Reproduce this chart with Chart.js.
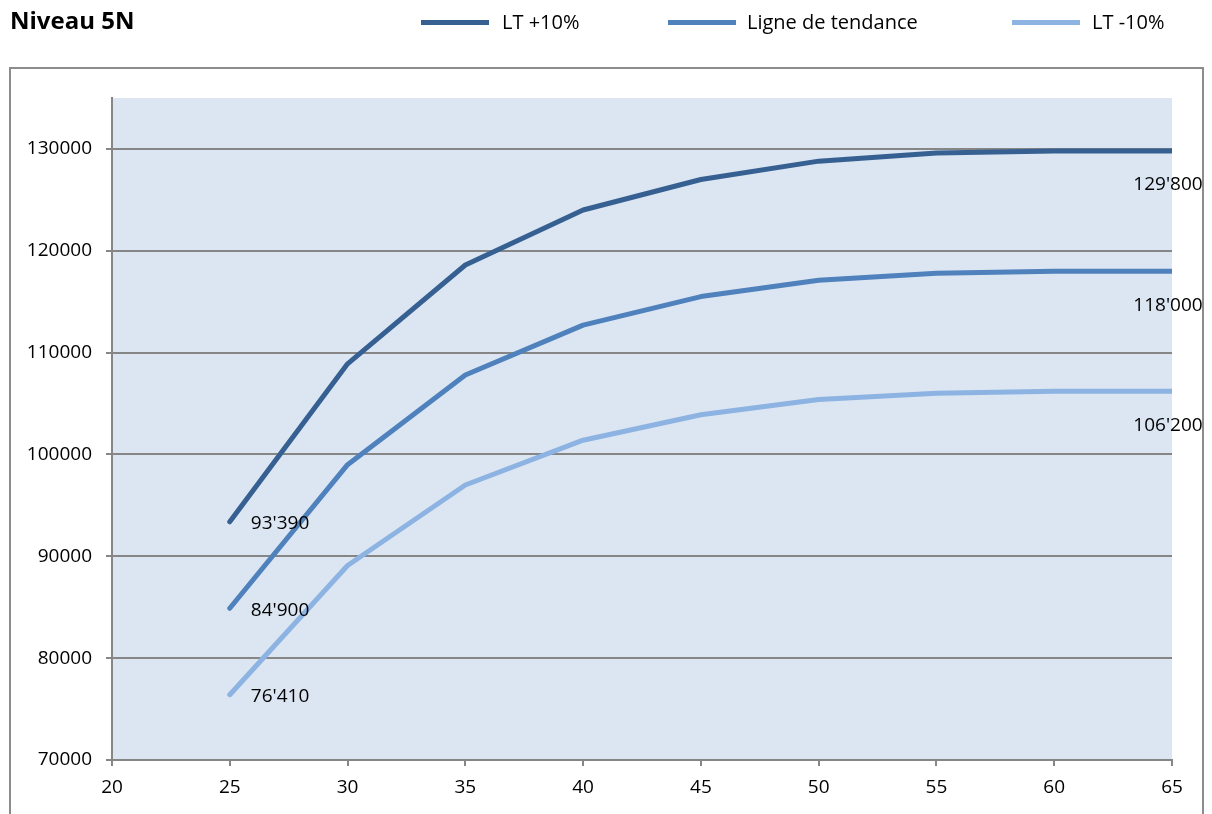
<!DOCTYPE html>
<html>
<head>
<meta charset="utf-8">
<script src="https://cdn.jsdelivr.net/npm/chart.js@4/dist/chart.umd.min.js"></script>
<style>
  body { margin: 0; background: #fff; font-family: "Open Sans", Lato, sans-serif; }
  #wrap { position: relative; width: 1212px; height: 814px; overflow: hidden; }
  #chart { position: absolute; left: 0; top: 0; }
  .titre { position: absolute; left: 10px; top: 5px; font-weight: bold; font-size: 24px; line-height: 30px; color: #000; }
  .leg-line { position: absolute; top: 20px; width: 68px; height: 5px; }
  .leg-txt { position: absolute; top: 10px; font-size: 20px; line-height: 23px; color: #000; white-space: nowrap; }
</style>
</head>
<body>
<div id="wrap">
  <canvas id="chart" width="1212" height="814"></canvas>
  <div class="titre">Niveau 5N</div>
  <div id="legende"></div>
</div>
<script>
// Donnees du graphique
var ages = [25, 30, 35, 40, 45, 50, 55, 60, 65];
var ltPlus = [93390, 108900, 118600, 124000, 127000, 128800, 129600, 129800, 129800];
var tendance = [84900, 99000, 107800, 112700, 115500, 117100, 117800, 118000, 118000];
var ltMoins = [76410, 89100, 97000, 101400, 103900, 105400, 106000, 106200, 106200];
var series = ["LT +10%", "Ligne de tendance", "LT -10%"];
var yTicks = [70000, 80000, 90000, 100000, 110000, 120000, 130000];

var couleurs = ["#376092", "#4f81bd", "#8db3e2"];
var gris = "#868686";
var police = "'Open Sans', Lato, sans-serif";

// Legende en haut (positions comme dans l'original)
var legPos = [[421, 502], [668, 747], [1012, 1092]];
var leg = document.getElementById("legende");
for (var i = 0; i < series.length; i++) {
    leg.innerHTML += '<div class="leg-line" style="left:' + legPos[i][0] + 'px;background:' + couleurs[i] + '"></div>' +
        '<div class="leg-txt" style="left:' + legPos[i][1] + 'px">' + series[i] + '</div>';
}

function points(vals) {
    return ages.map(function(a, k) { return { x: a, y: vals[k] }; });
}

function formatCHF(v) {
    return String(v).replace(/\B(?=(\d{3})+(?!\d))/g, "'");
}

// Cadre + fond de la zone de tracé
var fondPlugin = {
    id: "fond",
    beforeDraw: function(chart) {
        var ctx = chart.ctx, a = chart.chartArea;
        ctx.save();
        ctx.strokeStyle = "#8c8c8c";
        ctx.lineWidth = 2;
        ctx.strokeRect(10, 68, 1193, 800);
        ctx.fillStyle = "#dce6f2";
        ctx.fillRect(a.left, a.top, a.right - a.left, a.bottom - a.top);
        ctx.restore();
    }
};

// Etiquettes du premier et du dernier point
var etiquettesPlugin = {
    id: "etiquettes",
    afterDatasetsDraw: function(chart) {
        var ctx = chart.ctx;
        ctx.save();
        ctx.font = "19px " + police;
        ctx.fillStyle = "#000";
        ctx.textBaseline = "middle";
        chart.data.datasets.forEach(function(ds, i) {
            var meta = chart.getDatasetMeta(i);
            var first = meta.data[0], last = meta.data[meta.data.length - 1];
            ctx.textAlign = "left";
            ctx.fillText(formatCHF(ds.data[0].y), first.x + 21, first.y + 2);
            ctx.textAlign = "center";
            ctx.fillText(formatCHF(ds.data[ds.data.length - 1].y), last.x - 4, last.y + 34);
        });
        ctx.restore();
    }
};

new Chart(document.getElementById("chart"), {
    type: "line",
    data: {
        datasets: [
            { label: series[0], data: points(ltPlus), borderColor: couleurs[0] },
            { label: series[1], data: points(tendance), borderColor: couleurs[1] },
            { label: series[2], data: points(ltMoins), borderColor: couleurs[2] }
        ]
    },
    options: {
        responsive: false,
        animation: false,
        layout: { padding: { top: 98, right: 40, left: 0, bottom: 0 } },
        elements: {
            point: { radius: 0 },
            line: { borderWidth: 5, tension: 0, borderCapStyle: "round", borderJoinStyle: "round" }
        },
        plugins: { legend: { display: false }, tooltip: { enabled: false } },
        scales: {
            x: {
                type: "linear",
                min: 20,
                max: 65,
                afterFit: function(s) { s.height = 54; },
                ticks: { stepSize: 5, color: "#000", font: { family: police, size: 19 }, padding: 10 },
                grid: { drawOnChartArea: false, drawTicks: true, tickLength: 6, color: gris, lineWidth: 2 },
                border: { color: gris, width: 2 }
            },
            y: {
                min: 70000,
                max: 135000,
                afterFit: function(s) { s.width = 112; },
                afterBuildTicks: function(s) { s.ticks = yTicks.map(function(v) { return { value: v }; }); },
                ticks: {
                    color: "#000",
                    font: { family: police, size: 19 },
                    padding: 14,
                    callback: function(v) { return String(v); }
                },
                grid: { color: gris, lineWidth: 2, tickLength: 6 },
                border: { color: gris, width: 2 }
            }
        }
    },
    plugins: [fondPlugin, etiquettesPlugin]
});
</script>
</body>
</html>
